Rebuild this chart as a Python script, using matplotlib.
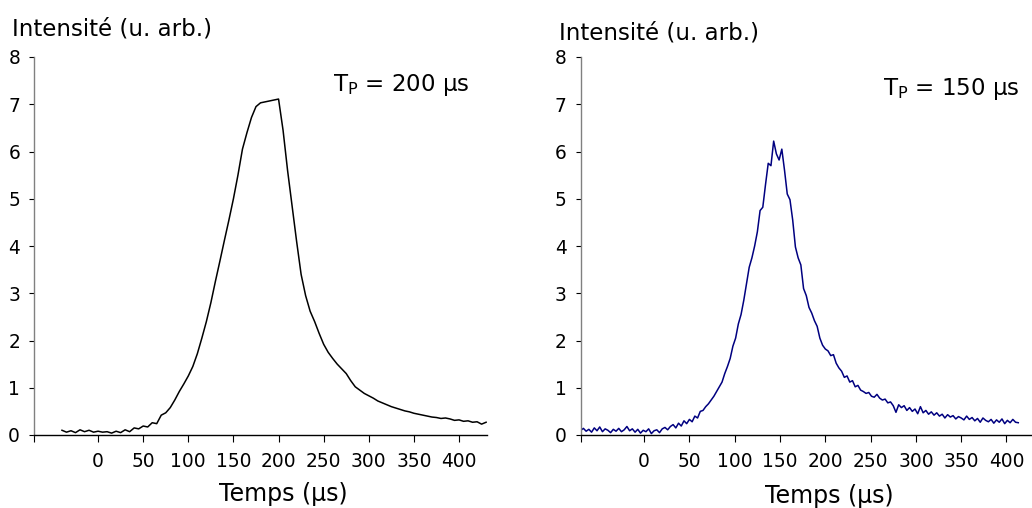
import matplotlib
matplotlib.use("Agg")
import matplotlib.pyplot as plt

plt.rcParams['font.family'] = ['DejaVu Sans']
plt.rcParams['mathtext.default'] = 'regular'

# ---------------- data ----------------
t_left = [-40, -35, -30, -25, -20, -15, -10, -5, 0, 5,
          10, 15, 20, 25, 30, 35, 40, 45, 50, 55,
          60, 65, 70, 75, 80, 85, 90, 95, 100, 105,
          110, 115, 120, 125, 130, 135, 140, 145, 150, 155,
          160, 165, 170, 175, 180, 185, 190, 195, 200, 205,
          210, 215, 220, 225, 230, 235, 240, 245, 250, 255,
          260, 265, 270, 275, 280, 285, 290, 295, 300, 305,
          310, 315, 320, 325, 330, 335, 340, 345, 350, 355,
          360, 365, 370, 375, 380, 385, 390, 395, 400, 405,
          410, 415, 420, 425, 430]
v_left = [0.10, 0.06, 0.09, 0.05, 0.11, 0.07, 0.10, 0.06, 0.08, 0.06,
          0.07, 0.04, 0.08, 0.05, 0.11, 0.07, 0.15, 0.13, 0.19, 0.17,
          0.26, 0.24, 0.42, 0.47, 0.58, 0.74, 0.92, 1.08, 1.25, 1.45,
          1.72, 2.05, 2.40, 2.80, 3.25, 3.68, 4.12, 4.55, 5.00, 5.50,
          6.05, 6.40, 6.72, 6.95, 7.03, 7.05, 7.07, 7.09, 7.11, 6.45,
          5.60, 4.85, 4.10, 3.40, 2.95, 2.62, 2.40, 2.15, 1.92, 1.75,
          1.62, 1.50, 1.40, 1.30, 1.15, 1.02, 0.95, 0.88, 0.83, 0.78,
          0.72, 0.68, 0.64, 0.60, 0.57, 0.54, 0.51, 0.49, 0.46, 0.44,
          0.42, 0.40, 0.38, 0.37, 0.35, 0.36, 0.34, 0.31, 0.32, 0.29,
          0.30, 0.27, 0.28, 0.23, 0.27]

t_right = [-70, -67, -64, -61, -58, -55, -52, -49, -46, -43,
           -40, -37, -34, -31, -28, -25, -22, -19, -16, -13,
           -10, -7, -4, -1, 2, 5, 8, 11, 14, 17,
           20, 23, 26, 29, 32, 35, 38, 41, 44, 47,
           50, 53, 56, 59, 62, 65, 68, 71, 74, 77,
           80, 83, 86, 89, 92, 95, 98, 101, 104, 107,
           110, 113, 116, 119, 122, 125, 128, 131, 134, 137,
           140, 143, 146, 149, 152, 155, 158, 161, 164, 167,
           170, 173, 176, 179, 182, 185, 188, 191, 194, 197,
           200, 203, 206, 209, 212, 215, 218, 221, 224, 227,
           230, 233, 236, 239, 242, 245, 248, 251, 254, 257,
           260, 263, 266, 269, 272, 275, 278, 281, 284, 287,
           290, 293, 296, 299, 302, 305, 308, 311, 314, 317,
           320, 323, 326, 329, 332, 335, 338, 341, 344, 347,
           350, 353, 356, 359, 362, 365, 368, 371, 374, 377,
           380, 383, 386, 389, 392, 395, 398, 401, 404, 407,
           410, 413]
v_right = [0.10, 0.14, 0.08, 0.12, 0.06, 0.15, 0.09, 0.17, 0.07, 0.13,
           0.10, 0.05, 0.12, 0.08, 0.14, 0.07, 0.11, 0.18, 0.09, 0.13,
           0.06, 0.12, 0.04, 0.10, 0.07, 0.13, 0.03, 0.09, 0.11, 0.05,
           0.13, 0.16, 0.11, 0.18, 0.22, 0.15, 0.25, 0.19, 0.30, 0.24,
           0.33, 0.28, 0.40, 0.36, 0.50, 0.52, 0.60, 0.66, 0.74, 0.82,
           0.92, 1.02, 1.12, 1.30, 1.45, 1.62, 1.88, 2.05, 2.35, 2.55,
           2.85, 3.20, 3.55, 3.75, 4.00, 4.30, 4.75, 4.82, 5.30, 5.75,
           5.70, 6.22, 5.95, 5.82, 6.05, 5.60, 5.10, 4.98, 4.55, 3.98,
           3.75, 3.60, 3.10, 2.95, 2.70, 2.58, 2.42, 2.30, 2.05, 1.90,
           1.82, 1.78, 1.68, 1.70, 1.52, 1.42, 1.35, 1.22, 1.25, 1.12,
           1.15, 1.02, 1.05, 0.95, 0.92, 0.88, 0.90, 0.82, 0.80, 0.86,
           0.78, 0.74, 0.76, 0.68, 0.70, 0.62, 0.48, 0.64, 0.58, 0.62,
           0.52, 0.58, 0.50, 0.55, 0.45, 0.60, 0.47, 0.52, 0.44, 0.49,
           0.42, 0.47, 0.40, 0.44, 0.36, 0.43, 0.38, 0.41, 0.34, 0.39,
           0.36, 0.32, 0.40, 0.33, 0.37, 0.30, 0.35, 0.27, 0.36, 0.31,
           0.28, 0.33, 0.25, 0.32, 0.27, 0.34, 0.24, 0.31, 0.26, 0.33,
           0.27, 0.26]

x_ticks = [0, 50, 100, 150, 200, 250, 300, 350, 400]
y_ticks = [0, 1, 2, 3, 4, 5, 6, 7, 8]
y_label = "Intensité (u. arb.)"
x_label = "Temps (µs)"
notes = ["T$_{P}$ = 200 µs", "T$_{P}$ = 150 µs"]

# ---------------- figure ----------------
W, H = 1032, 508
fig = plt.figure(figsize=(W / 100, H / 100), dpi=100)

def px(x, y):
    return x / W, 1 - y / H

panels = [
    dict(rect=(34, 57, 487, 435), xlim=(-71, 431), t=t_left, v=v_left, color='black',
         ylab=(12, 35), xlab=(283, 501.5), note=(333, 90.5)),
    dict(rect=(580.7, 57, 1031.5, 435), xlim=(-70, 427.6), t=t_right, v=v_right, color='#000080',
         ylab=(559, 39.3), xlab=(829.5, 503), note=(882.7, 95)),
]

for i, p in enumerate(panels):
    x0, y0, x1, y1 = p['rect']
    ax = fig.add_axes([x0 / W, 1 - y1 / H, (x1 - x0) / W, (y1 - y0) / H])
    ax.plot(p['t'], p['v'], color=p['color'], lw=1.1)
    ax.set_xlim(*p['xlim'])
    ax.set_ylim(0, 8)
    ax.set_xticks([p['xlim'][0]] + x_ticks)
    ax.set_xticklabels([''] + [str(v) for v in x_ticks])
    ax.set_yticks(y_ticks)
    ax.set_yticklabels([str(v) for v in y_ticks])
    for s in ['top', 'right']:
        ax.spines[s].set_visible(False)
    ax.spines['left'].set_color('#808080')
    ax.spines['bottom'].set_color('black')
    ax.spines['left'].set_linewidth(1.0)
    ax.spines['bottom'].set_linewidth(1.0)
    ax.tick_params(axis='x', direction='out', length=5, width=0.8, pad=7.5,
                   labelsize=13.4, colors='black')
    ax.tick_params(axis='y', direction='out', length=3.5, width=0.8, pad=6.5,
                   labelsize=13.4, colors='black')
    ax.patch.set_alpha(0)

    fx, fy = px(*p['ylab'])
    fig.text(fx, fy, y_label, fontsize=16.5, ha='left', va='baseline')
    fx, fy = px(*p['xlab'])
    fig.text(fx, fy, x_label, fontsize=17, ha='center', va='baseline')
    fx, fy = px(*p['note'])
    fig.text(fx, fy, notes[i], fontsize=16.5, ha='left', va='baseline')

fig.savefig("out.png", dpi=100)
